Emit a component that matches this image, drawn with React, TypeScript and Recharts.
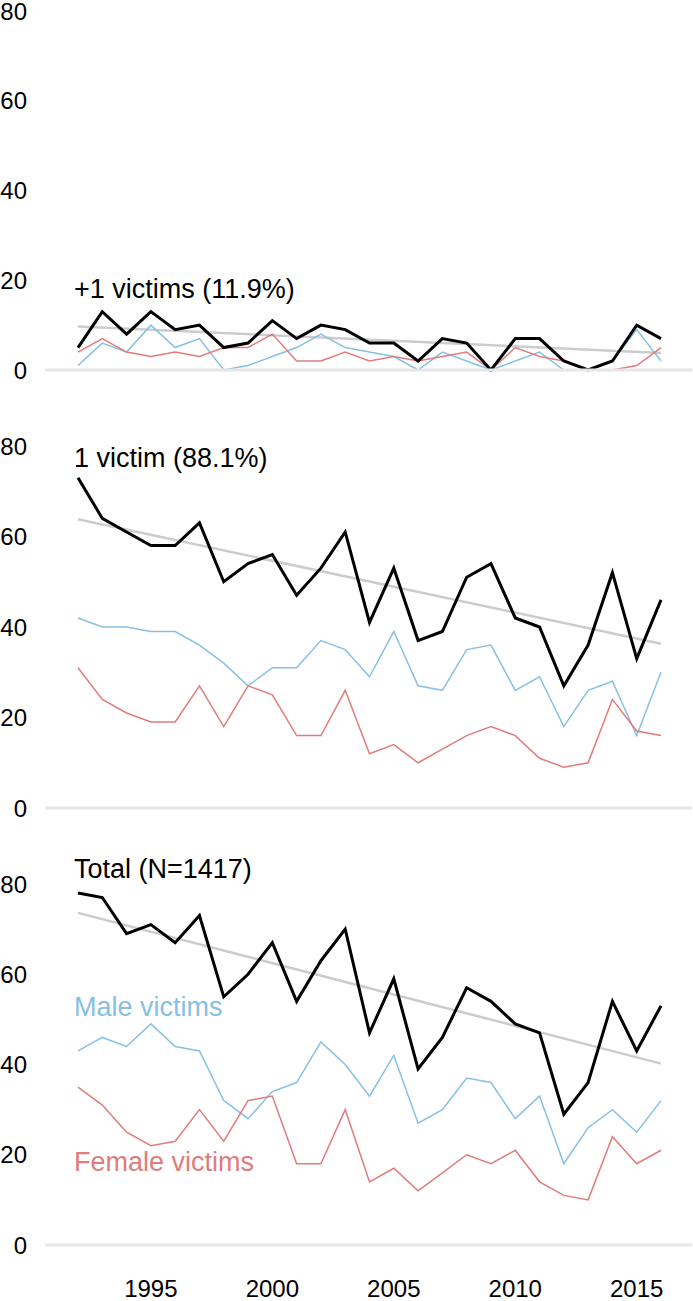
import { LineChart, Line, XAxis, YAxis } from "recharts"

const years = [
  1992, 1993, 1994, 1995, 1996, 1997, 1998, 1999, 2000, 2001, 2002, 2003, 2004,
  2005, 2006, 2007, 2008, 2009, 2010, 2011, 2012, 2013, 2014, 2015, 2016,
]
const yearTicks = [1995, 2000, 2005, 2010, 2015]
const valueTicks = [0, 20, 40, 60, 80]

// +1 victims
const multiTotal = [5, 13, 8, 13, 9, 10, 5, 6, 11, 7, 10, 9, 6, 6, 2, 7, 6, 0, 7, 7, 2, 0, 2, 10, 7]
const multiMale = [1, 6, 4, 10, 5, 7, 0, 1, 3, 5, 8, 5, 4, 3, 0, 4, 2, 0, 2, 4, 0, 0, 2, 9, 2]
const multiFemale = [4, 7, 4, 3, 4, 3, 5, 5, 8, 2, 2, 4, 2, 3, 2, 3, 4, 0, 5, 3, 2, 0, 0, 1, 5]
const multiTrend = [9.7, 3.8]

// 1 victim
const singleTotal = [73, 64, 61, 58, 58, 63, 50, 54, 56, 47, 53, 61, 41, 53, 37, 39, 51, 54, 42, 40, 27, 36, 52, 33, 46]
const singleMale = [42, 40, 40, 39, 39, 36, 32, 27, 31, 31, 37, 35, 29, 39, 27, 26, 35, 36, 26, 29, 18, 26, 28, 16, 30]
const singleFemale = [31, 24, 21, 19, 19, 27, 18, 27, 25, 16, 16, 26, 12, 14, 10, 13, 16, 18, 16, 11, 9, 10, 24, 17, 16]
const singleTrend = [63.8, 36.3]

// Total
const allTotal = [78, 77, 69, 71, 67, 73, 55, 60, 67, 54, 63, 70, 47, 59, 39, 46, 57, 54, 49, 47, 29, 36, 54, 43, 53]
const allMale = [43, 46, 44, 49, 44, 43, 32, 28, 34, 36, 45, 40, 33, 42, 27, 30, 37, 36, 28, 33, 18, 26, 30, 25, 32]
const allFemale = [35, 31, 25, 22, 23, 30, 23, 32, 33, 18, 18, 30, 14, 17, 12, 16, 20, 18, 21, 14, 11, 10, 24, 18, 21]
const allTrend = [73.6, 40.2]

const BLUE = "#86c0e5"
const RED = "#e07c7c"
const GRID = "#e6e6e6"
const TREND = "#cccccc"

const buildRows = (total: number[], male: number[], female: number[], trend: number[]) =>
  years.map((year, i) => ({
    year,
    total: total[i],
    male: male[i],
    female: female[i],
    trend: i === 0 ? trend[0] : i === years.length - 1 ? trend[1] : null,
  }))

type PanelProps = {
  top: number
  height: number
  marginTop: number
  xHeight: number
  showYears: boolean
  rows: ReturnType<typeof buildRows>
}

const Panel = ({ top, height, marginTop, xHeight, showYears, rows }: PanelProps) => (
  <div style={{ position: "absolute", left: 0, top }}>
    <LineChart
      width={693}
      height={height}
      data={rows}
      margin={{ top: marginTop, right: 1, bottom: 0, left: 0 }}
    >
      <XAxis
        dataKey="year"
        type="number"
        domain={[1992, 2016]}
        ticks={yearTicks}
        padding={{ left: 33, right: 31 }}
        axisLine={{ stroke: GRID, strokeWidth: 3 }}
        tickLine={false}
        tickSize={0}
        tickMargin={35}
        tick={showYears ? { fontSize: 24, fill: "#000" } : false}
        height={xHeight}
        interval={0}
      />
      <YAxis
        domain={[0, 80]}
        ticks={valueTicks}
        width={45}
        axisLine={false}
        tickLine={false}
        tickSize={0}
        tickMargin={18}
        tick={{ fontSize: 24, fill: "#000" }}
        interval={0}
      />
      <Line dataKey="trend" stroke={TREND} strokeWidth={2.5} dot={false} connectNulls isAnimationActive={false} />
      <Line dataKey="male" stroke={BLUE} strokeWidth={1.5} dot={false} isAnimationActive={false} />
      <Line dataKey="female" stroke={RED} strokeWidth={1.5} dot={false} isAnimationActive={false} />
      <Line dataKey="total" stroke="#000" strokeWidth={3} dot={false} isAnimationActive={false} />
    </LineChart>
  </div>
)

const labelStyle = (top: number, color: string): React.CSSProperties => ({
  position: "absolute",
  left: 74,
  top,
  fontSize: 27,
  lineHeight: 1,
  color,
  whiteSpace: "nowrap",
})

export default function App() {
  return (
    <div
      style={{
        position: "absolute",
        left: 0,
        top: 0,
        width: 693,
        height: 1301,
        overflow: "hidden",
        background: "#fff",
        fontFamily: '"Liberation Sans", Arial, sans-serif',
      }}
    >
      <Panel top={0} height={384} marginTop={11} xHeight={14} showYears={false}
        rows={buildRows(multiTotal, multiMale, multiFemale, multiTrend)} />
      <Panel top={400} height={422} marginTop={46} xHeight={14} showYears={false}
        rows={buildRows(singleTotal, singleMale, singleFemale, singleTrend)} />
      <Panel top={838} height={463} marginTop={46} xHeight={56} showYears
        rows={buildRows(allTotal, allMale, allFemale, allTrend)} />

      <div style={labelStyle(276, "#000")}>+1 victims (11.9%)</div>
      <div style={labelStyle(445, "#000")}>1 victim (88.1%)</div>
      <div style={labelStyle(856, "#000")}>Total (N=1417)</div>
      <div style={labelStyle(994, BLUE)}>Male victims</div>
      <div style={labelStyle(1149, RED)}>Female victims</div>
    </div>
  )
}
